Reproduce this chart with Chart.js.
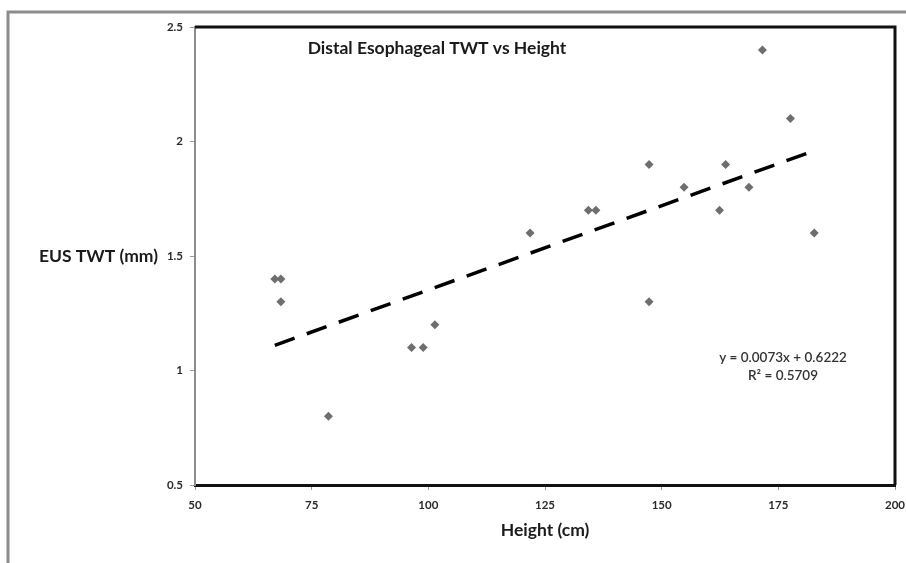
<!DOCTYPE html>
<html>
<head>
<meta charset="utf-8">
<script src="https://cdn.jsdelivr.net/npm/chart.js@4/dist/chart.umd.min.js"></script>
<style>
  html, body { margin: 0; padding: 0; background: #fff; }
  #wrap { width: 906px; height: 563px; }
</style>
</head>
<body>
<div id="wrap"><canvas id="chart" width="906" height="563"></canvas></div>
<script>
const heights = [67.1, 68.4, 68.4, 78.6, 96.4, 98.9, 101.4, 121.8, 134.3, 135.9, 147.3, 147.3, 154.8, 162.4, 163.7, 168.7, 171.6, 177.6, 182.7];
const twt = [1.4, 1.4, 1.3, 0.8, 1.1, 1.1, 1.2, 1.6, 1.7, 1.7, 1.9, 1.3, 1.8, 1.7, 1.9, 1.8, 2.4, 2.1, 1.6];
const trendX = [67.1, 182.7];
const trendY = [1.11, 1.96];
const xTicks = [50, 75, 100, 125, 150, 175, 200];
const yTicks = [0.5, 1, 1.5, 2, 2.5];

const chartTitle = 'Distal Esophageal TWT vs Height';
const xTitle = 'Height (cm)';
const yTitle = 'EUS TWT (mm)';
const equation = ['y = 0.0073x + 0.6222', 'R\u00b2 = 0.5709'];

const font = 'Lato, "Open Sans", sans-serif';

// frame, plot box and the texts that sit inside / beside it
const decor = {
  id: 'decor',
  beforeDraw(chart) {
    const c = chart.ctx;
    c.save();
    c.strokeStyle = '#8c8c8c';
    c.lineWidth = 3;
    c.beginPath();
    c.moveTo(8, 563);
    c.lineTo(8, 12);
    c.lineTo(906, 12);
    c.stroke();
    c.restore();
  },
  afterDraw(chart) {
    const a = chart.chartArea;
    const c = chart.ctx;
    c.save();
    c.strokeStyle = '#111';
    c.lineWidth = 3;
    c.beginPath();
    c.moveTo(a.left, a.top);
    c.lineTo(a.right, a.top);
    c.lineTo(a.right, a.bottom);
    c.stroke();

    c.fillStyle = '#1a1a1a';
    c.font = 'bold 17.5px ' + font;
    c.textAlign = 'center';
    c.textBaseline = 'middle';
    c.fillText(chartTitle, 437, 48);
    c.fillText(xTitle, (a.left + a.right) / 2, 530);
    c.textAlign = 'right';
    c.fillText(yTitle, 158, 256);

    c.textAlign = 'center';
    c.font = '600 13.5px ' + font;
    c.fillStyle = '#333';
    c.fillText(equation[0], 783, 358);
    c.fillText(equation[1], 783, 376);
    c.restore();
  }
};

const ctx = document.getElementById('chart').getContext('2d');
new Chart(ctx, {
  type: 'scatter',
  data: {
    datasets: [{
      label: 'TWT',
      data: heights.map((h, i) => ({ x: h, y: twt[i] })),
      pointStyle: 'rectRot',
      pointRadius: 4.5,
      pointHoverRadius: 4.5,
      backgroundColor: '#6e6e6e',
      borderColor: '#6e6e6e',
      borderWidth: 0
    }, {
      type: 'line',
      label: 'Linear',
      data: trendX.map((h, i) => ({ x: h, y: trendY[i] })),
      borderColor: '#000',
      borderWidth: 3.5,
      borderDash: [21, 13],
      pointRadius: 0,
      fill: false
    }]
  },
  options: {
    responsive: false,
    animation: false,
    layout: { padding: { top: 27, right: 11, left: 0, bottom: 0 } },
    plugins: { legend: { display: false }, tooltip: { enabled: false } },
    scales: {
      x: {
        type: 'linear',
        min: 50, max: 200,
        afterBuildTicks: s => { s.ticks = xTicks.map(v => ({ value: v })); },
        afterFit: s => { s.height = 78; s.paddingRight = 0; s.paddingLeft = 0; },
        border: { color: '#111', width: 3 },
        grid: { drawOnChartArea: false, tickLength: 5, color: '#999' },
        ticks: { padding: 8, color: '#2a2a2a', font: { family: font, size: 11.5, weight: 'bold' } }
      },
      y: {
        type: 'linear',
        min: 0.5, max: 2.5,
        afterBuildTicks: s => { s.ticks = yTicks.map(v => ({ value: v })); },
        afterFit: s => { s.width = 195; s.paddingTop = 0; s.paddingBottom = 0; },
        border: { color: '#8c8c8c', width: 2 },
        grid: { drawOnChartArea: false, tickLength: 5, color: '#999' },
        ticks: {
          padding: 7, color: '#2a2a2a', font: { family: font, size: 11.5, weight: 'bold' },
          callback: v => String(v)
        }
      }
    }
  },
  plugins: [decor]
});
</script>
</body>
</html>
